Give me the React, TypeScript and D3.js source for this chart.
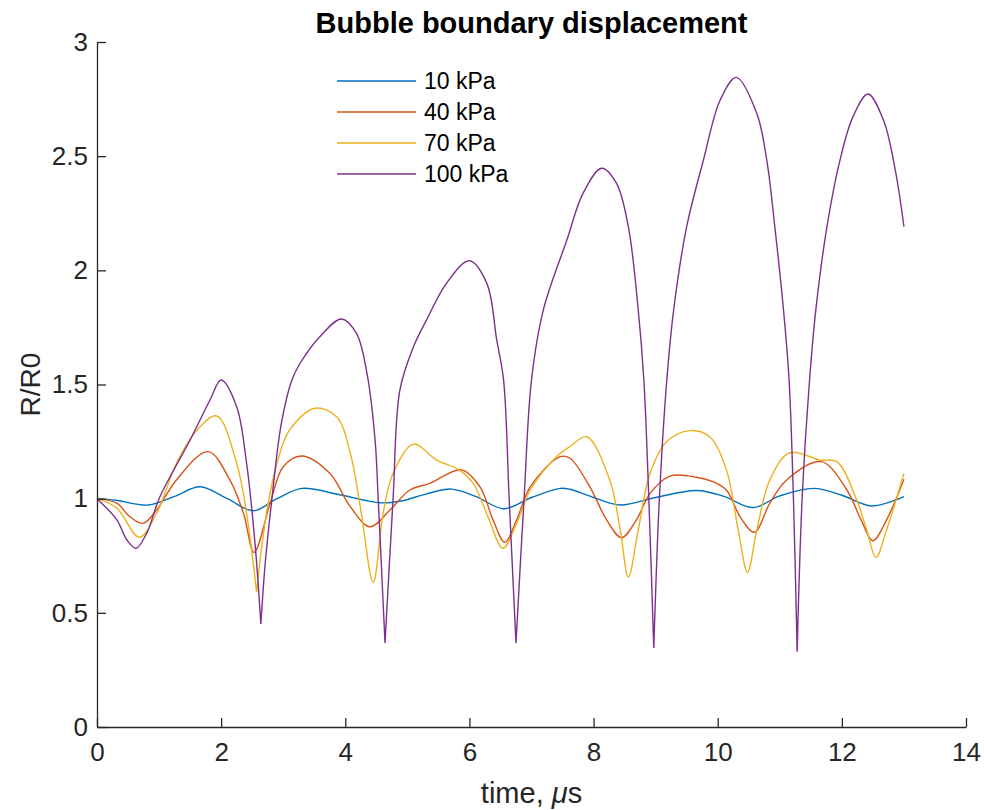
import React, { useEffect, useRef } from 'react';
import * as d3 from 'd3';

// [time (us), R/R0]
const p10: [number, number][] = [
  [0, 1.0], [0.3, 0.993], [0.83, 0.972], [1.25, 1.01], [1.66, 1.052], [2.1, 1.0], [2.52, 0.947],
  [2.9, 1.0], [3.3, 1.045], [3.91, 1.017], [4.56, 0.982], [4.9, 0.99], [5.3, 1.02], [5.71, 1.042],
  [6.1, 1.01], [6.55, 0.956], [7.0, 1.005], [7.46, 1.045], [7.62, 1.041], [8.0, 1.005], [8.43, 0.972],
  [9.0, 1.005], [9.66, 1.036], [10.1, 1.01], [10.57, 0.961], [11.0, 1.012], [11.55, 1.045],
  [12.0, 1.015], [12.48, 0.968], [13.0, 1.009]
];

const p40: [number, number][] = [
  [0, 1.0], [0.32, 0.98], [0.53, 0.921], [0.74, 0.892], [0.96, 0.95], [1.28, 1.082], [1.79, 1.206],
  [2.14, 1.082], [2.36, 0.936], [2.53, 0.765], [2.79, 0.98], [3.0, 1.14], [3.3, 1.187], [3.75, 1.111],
  [4.08, 0.965], [4.4, 0.877], [4.72, 0.95], [5.04, 1.038], [5.36, 1.067], [5.87, 1.126], [6.17, 1.052],
  [6.38, 0.907], [6.57, 0.809], [6.76, 0.907], [6.98, 1.052], [7.46, 1.184], [7.62, 1.177], [7.94, 1.052],
  [8.21, 0.907], [8.45, 0.829], [8.69, 0.907], [8.91, 1.023], [9.23, 1.099], [9.66, 1.094], [9.93, 1.074],
  [10.14, 1.038], [10.36, 0.921], [10.59, 0.853], [10.84, 0.98], [11.11, 1.082], [11.67, 1.162],
  [12.08, 1.038], [12.31, 0.907], [12.5, 0.816], [12.72, 0.907], [13.0, 1.085]
];

const p70: [number, number][] = [
  [0, 1.0], [0.32, 0.958], [0.68, 0.831], [0.96, 0.936], [1.28, 1.155], [1.61, 1.3], [1.93, 1.362],
  [2.25, 1.155], [2.41, 0.936], [2.57, 0.591], [2.73, 0.936], [2.9, 1.155], [3.1, 1.3], [3.51, 1.396],
  [3.86, 1.359], [4.08, 1.2], [4.25, 0.95], [4.45, 0.634], [4.61, 0.936], [4.77, 1.111], [5.1, 1.239],
  [5.47, 1.169], [5.82, 1.128], [6.06, 1.067], [6.3, 0.92], [6.54, 0.783], [6.76, 0.892], [6.98, 1.038],
  [7.4, 1.184], [7.62, 1.228], [7.89, 1.271], [8.26, 1.082], [8.43, 0.863], [8.56, 0.656], [8.72, 0.863],
  [8.91, 1.111], [9.18, 1.25], [9.55, 1.298], [9.87, 1.271], [10.14, 1.126], [10.33, 0.863], [10.48, 0.678],
  [10.63, 0.863], [10.84, 1.082], [11.16, 1.201], [11.65, 1.169], [11.92, 1.162], [12.24, 0.994],
  [12.4, 0.863], [12.55, 0.743], [12.72, 0.863], [13.0, 1.111]
];

const p100: [number, number][] = [
  [0, 1.0], [0.32, 0.907], [0.48, 0.82], [0.63, 0.783], [0.8, 0.848], [1.01, 1.006], [1.5, 1.257],
  [1.82, 1.432], [2.0, 1.52], [2.25, 1.403], [2.41, 1.155], [2.55, 0.79], [2.64, 0.451], [2.71, 0.717],
  [2.81, 0.98], [2.97, 1.33], [3.14, 1.52], [3.27, 1.592], [3.59, 1.709], [3.94, 1.787], [4.18, 1.724],
  [4.35, 1.548], [4.48, 1.257], [4.53, 1.0], [4.64, 0.368], [4.77, 1.0], [4.88, 1.476], [5.1, 1.666],
  [5.31, 1.783], [5.63, 1.943], [6.0, 2.042], [6.28, 1.943], [6.44, 1.695], [6.55, 1.52], [6.64, 1.0],
  [6.75, 0.368], [6.88, 1.0], [7.0, 1.52], [7.19, 1.826], [7.57, 2.133], [7.83, 2.337], [8.13, 2.447],
  [8.37, 2.381], [8.56, 2.191], [8.72, 1.826], [8.81, 1.52], [8.89, 1.0], [8.97, 0.346], [9.06, 1.0],
  [9.18, 1.52], [9.29, 1.826], [9.5, 2.191], [9.77, 2.483], [10.04, 2.746], [10.3, 2.845], [10.63, 2.687],
  [10.79, 2.483], [10.92, 2.191], [11.06, 1.826], [11.15, 1.52], [11.22, 1.0], [11.28, 0.33], [11.36, 1.0],
  [11.48, 1.52], [11.58, 1.826], [11.76, 2.191], [11.97, 2.483], [12.18, 2.673], [12.42, 2.772],
  [12.67, 2.658], [12.86, 2.44], [13.0, 2.191]
];

const seriesNames = ['10 kPa', '40 kPa', '70 kPa', '100 kPa'];
const xTicks = [0, 2, 4, 6, 8, 10, 12, 14];
const yTicks = [0, 0.5, 1, 1.5, 2, 2.5, 3];

const FONT = '"Liberation Sans", Arial, Helvetica, sans-serif';
const AXIS = '#262626';

// split a series at its sharp collapse points so each rebound is drawn smooth
// but the cusp itself stays pointed
const splitAtCusps = (pts: [number, number][]) => {
  const parts: [number, number][][] = [];
  let start = 0;
  for (let i = 1; i < pts.length - 1; i++) {
    if (pts[i][1] < 0.6 && pts[i][1] < pts[i - 1][1] && pts[i][1] < pts[i + 1][1]) {
      parts.push(pts.slice(start, i + 1));
      start = i;
    }
  }
  parts.push(pts.slice(start));
  return parts;
};

const App = () => {
  const svgRef = useRef<SVGSVGElement>(null);

  useEffect(() => {
    const W = 984, H = 810;
    const margin = { top: 42, right: 18, bottom: 83, left: 97 };
    const width = W - margin.left - margin.right;
    const height = H - margin.top - margin.bottom;

    const root = d3.select(svgRef.current);
    root.selectAll('*').remove();
    root.attr('width', W).attr('height', H);

    const svg = root.append('g')
      .attr('transform', `translate(${margin.left},${margin.top})`);

    const x = d3.scaleLinear().domain([0, 14]).range([0, width]);
    const y = d3.scaleLinear().domain([0, 3]).range([height, 0]);

    const color = d3.scaleOrdinal<string>()
      .domain(seriesNames)
      .range(['#0072BD', '#D95319', '#EDB120', '#7E2F8E']);

    const data = [p10, p40, p70, p100];

    const line = d3.line<[number, number]>()
      .x(d => x(d[0]))
      .y(d => y(d[1]))
      .curve(d3.curveCatmullRom.alpha(0.5));

    data.forEach((series, i) => {
      const d = splitAtCusps(series).map(part => line(part)).join('');
      svg.append('path')
        .attr('d', d)
        .attr('fill', 'none')
        .attr('stroke', color(seriesNames[i]))
        .attr('stroke-width', 1.4)
        .attr('stroke-linejoin', 'round');
    });

    // axes (MATLAB style: ticks inward, box off)
    const xAxis = svg.append('g')
      .attr('transform', `translate(0,${height})`)
      .call(d3.axisBottom(x).tickValues(xTicks).tickSizeInner(-9).tickSizeOuter(0).tickPadding(16));

    const yAxis = svg.append('g')
      .call(d3.axisLeft(y).tickValues(yTicks).tickFormat(d3.format('~g')).tickSizeInner(-9).tickSizeOuter(0).tickPadding(9));

    [xAxis, yAxis].forEach(a => {
      a.select('.domain').attr('stroke', AXIS).attr('stroke-width', 1.3);
      a.selectAll('.tick line').attr('stroke', AXIS).attr('stroke-width', 1.3);
      a.selectAll('.tick text')
        .attr('fill', AXIS)
        .style('font-family', FONT)
        .style('font-size', '26px');
    });

    // title
    root.append('text')
      .attr('x', margin.left + width / 2)
      .attr('y', 33)
      .attr('text-anchor', 'middle')
      .style('font-family', FONT)
      .style('font-size', '29px')
      .style('font-weight', 'bold')
      .attr('fill', '#000')
      .text('Bubble boundary displacement');

    // x label
    const xl = root.append('text')
      .attr('x', margin.left + width / 2)
      .attr('y', 803)
      .attr('text-anchor', 'middle')
      .style('font-family', FONT)
      .style('font-size', '29px')
      .attr('fill', AXIS);
    xl.append('tspan').text('time, ');
    xl.append('tspan').style('font-style', 'italic').text('\u03bc');
    xl.append('tspan').text('s');

    // y label
    root.append('text')
      .attr('transform', `translate(40,${margin.top + height / 2}) rotate(-90)`)
      .attr('text-anchor', 'middle')
      .style('font-family', FONT)
      .style('font-size', '28px')
      .attr('fill', AXIS)
      .text('R/R0');

    // legend
    const legend = root.append('g').attr('transform', 'translate(337,81)');
    seriesNames.forEach((name, i) => {
      const row = legend.append('g').attr('transform', `translate(0,${i * 31})`);
      row.append('line')
        .attr('x1', 0).attr('x2', 79)
        .attr('y1', 0).attr('y2', 0)
        .attr('stroke', color(name))
        .attr('stroke-width', 1.4);
      row.append('text')
        .attr('x', 87)
        .attr('y', 0)
        .attr('dy', '0.35em')
        .style('font-family', FONT)
        .style('font-size', '23px')
        .attr('fill', '#000')
        .text(name);
    });
  }, []);

  return (
    <div style={{ position: 'absolute', left: 0, top: 0 }}>
      <svg ref={svgRef} style={{ display: 'block', background: '#fff' }}></svg>
    </div>
  );
};

export default App;
